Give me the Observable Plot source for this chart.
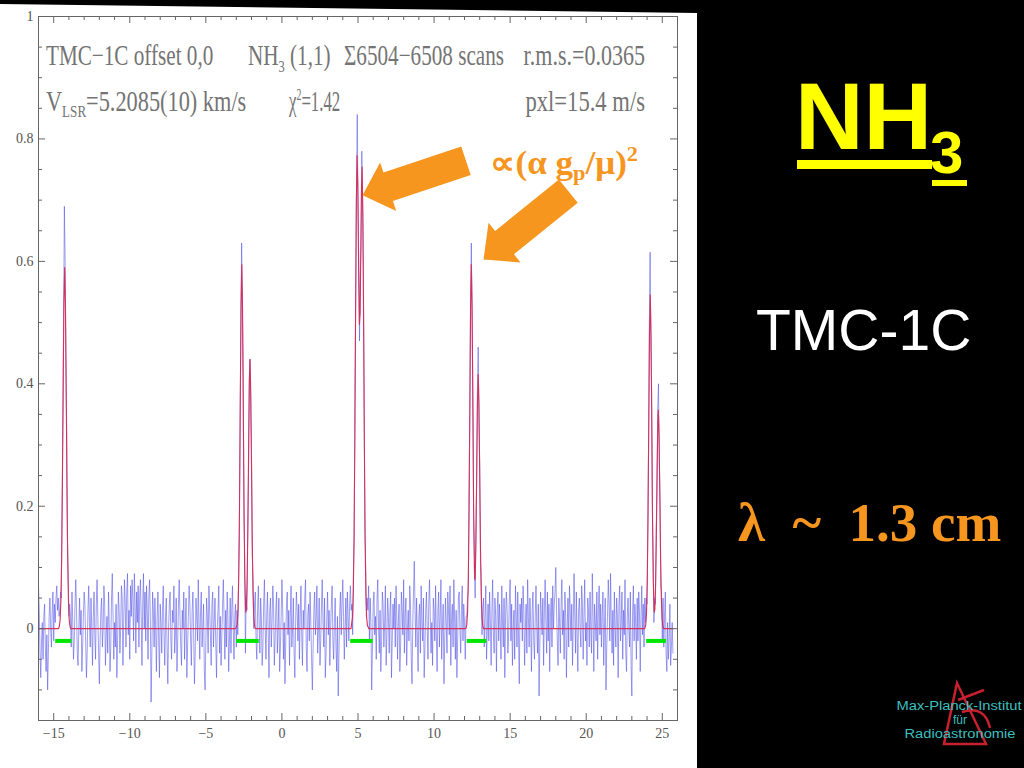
<!DOCTYPE html>
<html><head><meta charset="utf-8">
<script src="https://cdn.jsdelivr.net/npm/d3@7"></script>
<script src="https://cdn.jsdelivr.net/npm/@observablehq/plot@0.6"></script>
<style>
html,body{margin:0;padding:0;background:#000;width:1024px;height:768px;overflow:hidden;}
#panel{position:absolute;left:0;top:0;width:697px;height:768px;background:#fff;clip-path:polygon(0 4px,697px 13px,697px 768px,0 768px);}
#chart{position:absolute;left:0;top:0;}
#overlay{position:absolute;left:0;top:0;pointer-events:none;}
</style></head>
<body>
<div id="panel"></div>
<div id="chart"></div>
<svg id="overlay" width="1024" height="768" xmlns="http://www.w3.org/2000/svg">
  <g font-family="'Liberation Serif', serif" font-size="29" fill="#747474">
    <text transform="translate(46,65) scale(0.73,1)">TMC−1C offset 0,0</text>
    <text transform="translate(248,65) scale(0.73,1)">NH<tspan font-size="17" dy="7">3</tspan><tspan dy="-7"> (1,1)</tspan></text>
    <text transform="translate(344,65) scale(0.73,1)">Σ6504−6508 scans</text>
    <text transform="translate(645,65) scale(0.76,1)" text-anchor="end">r.m.s.=0.0365</text>
    <text transform="translate(46,111) scale(0.77,1)">V<tspan font-size="17" dy="6">LSR</tspan><tspan dy="-6">=5.2085(10) km/s</tspan></text>
    <text transform="translate(289,111) scale(0.58,1)">χ<tspan font-size="17" dy="-11">2</tspan><tspan dy="11">=1.42</tspan></text>
    <text transform="translate(645,111) scale(0.78,1)" text-anchor="end">pxl=15.4 m/s</text>
  </g>
  <text x="490" y="174" font-family="'Liberation Serif', serif" font-weight="bold" font-size="33" fill="#f7961f" textLength="148" lengthAdjust="spacingAndGlyphs">∝(α g<tspan font-size="21" dy="6">p</tspan><tspan dy="-6">/μ)</tspan><tspan font-size="21" dy="-13">2</tspan></text>
  <g font-family="'Liberation Sans', Arial, sans-serif" font-weight="bold" fill="#ffff00">
    <text x="795" y="149" font-size="95">NH</text>
    <text x="930" y="173" font-size="60">3</text>
    <rect x="797" y="160" width="135" height="9"/>
    <rect x="932" y="180" width="35" height="6"/>
  </g>
  <text x="756" y="350" font-family="'Liberation Sans', Arial, sans-serif" font-size="57" fill="#ffffff">TMC-1C</text>
  <text x="738" y="541" font-family="'Liberation Serif', serif" font-weight="bold" font-size="55" fill="#f7961f" xml:space="preserve" style="white-space:pre">λ  ~  1.3 cm</text>
  <g fill="none" stroke="#c8202e" stroke-width="2.5">
    <path d="M957,683 L944,744 L986,744 Z"/>
    <path d="M962,712 Q985,705 990,728"/>
    <path d="M958,700 L984,690"/>
  </g>
  <g font-family="'Liberation Sans', Arial, sans-serif" font-size="12" fill="#3cbfbf" text-anchor="middle">
    <text x="959" y="710" textLength="125" lengthAdjust="spacingAndGlyphs">Max-Planck-Institut</text>
    <text x="960" y="724">für</text>
    <text x="960" y="738" textLength="111" lengthAdjust="spacingAndGlyphs">Radioastronomie</text>
  </g>
</svg>
<script>
// ---- data ----
const xMajorTicks = [-15, -10, -5, 0, 5, 10, 15, 20, 25];
const yMajorTicks = [0, 0.2, 0.4, 0.6, 0.8, 1];
const yTickLabels = ["0", "0.2", "0.4", "0.6", "0.8", "1"];

// observed spectrum, one value per 0.05 km/s starting at -16
const blueStart = -16, blueStep = 0.05;
const blueY = [
.07,.03,-.04,-.08,-.02,.01,-.05,.02,.04,-.03,-.07,-.01,-.1,-.04,.02,.05,0,-.03,.03,.06,-.02,.04,.01,.05,.07,.03,.05,.02,
.03,.06,.05,.2,.33,.5,.69,.6,.44,.33,.15,.09,.02,.04,
.02,-.03,.06,.01,-.05,-.02,.04,.08,.03,-.04,
-.06,0,.05,-.01,.03,-.07,-.03,.02,.06,.04,
-.02,-.08,-.04,.03,.07,.01,-.03,.05,0,-.06,
.02,.06,-.01,-.05,.04,.08,.02,-.04,-.09,-.02,
.03,.05,-.03,0,.07,.04,-.06,-.01,.02,-.04,
.06,.01,-.07,-.03,.05,.09,.02,-.05,.01,-.03,
.04,-.08,-.02,.06,.03,-.04,0,.07,.05,-.06,
.01,.08,.04,-.03,.06,.09,-.01,.03,-.05,.07,
.02,.08,.05,-.02,.09,.04,-.04,.06,.01,.07,
-.03,.05,.08,.02,-.06,.04,.09,0,.06,-.02,
.07,.03,-.05,.05,.08,.02,-.12,-.04,.06,.03,
-.03,.05,0,-.07,.02,.06,-.02,-.08,.04,.01,
-.04,.03,.07,-.01,-.06,.02,.05,-.03,-.09,0,
.04,.06,-.02,-.05,.03,.01,.07,-.04,-.01,.05,
-.07,-.02,.04,.08,.02,-.03,-.06,.03,0,.06,
-.05,.01,.05,-.08,-.03,.02,.07,.04,-.02,-.06,
.03,.06,-.01,-.09,-.04,.05,.02,-.02,.08,.01,
-.05,.03,.06,-.03,0,.04,-.07,-.1,-.02,.05,
.02,-.04,.07,.03,-.01,-.06,.04,.06,-.03,.01,
.05,-.02,-.08,0,.03,.07,-.04,.02,-.06,-.01,
.04,.08,.01,-.05,.03,-.03,.06,.02,-.07,-.02,
.05,-.04,.03,.07,0,-.05,.02,.04,-.03,
.03,-.01,.09,.15,.34,.48,.63,.53,.42,.2,.12,-.04,.05,.03,.15,.24,.4,.44,.37,.29,.12,.08,0,.04,
.06,-.02,-.05,.03,.07,.01,-.04,.05,.02,-.06,
-.03,.04,.08,0,-.05,.02,.06,-.01,-.08,.03,
.05,-.03,.01,.07,.04,-.06,-.02,.03,.06,-.04,
0,.05,-.07,-.03,.02,.08,.03,-.05,.01,-.09,
-.02,.04,.06,-.01,.03,-.06,.02,.07,-.03,0,
.05,-.04,-.08,.01,.06,.03,-.02,.04,-.05,.02,
.07,-.01,-.06,.03,0,.05,.08,-.03,-.07,.02,
.04,-.02,.06,.01,-.05,-.1,-.03,.03,.06,-.01,
.02,.07,-.04,0,.05,-.06,-.02,.04,.08,.01,
-.03,.05,-.08,-.04,.02,.06,-.01,.03,-.06,0,
.04,.07,-.02,-.05,.01,.05,-.03,-.07,.02,-.11,
-.04,.03,.06,-.01,.04,.08,.02,-.05,0,.05,
-.03,.06,.02,-.02,.04,.07,.03,
.04,-.01,.09,.15,.37,.55,.72,.84,.7,.6,.47,.58,.62,.78,.7,.6,.4,.17,.11,.02,.05,
.03,.07,-.02,.05,.01,-.1,-.03,.04,.06,-.01,
.02,-.05,.05,.08,0,-.04,.03,-.07,-.02,.06,
.04,-.03,.01,.07,-.06,-.01,.05,.02,-.04,.03,
.06,-.08,-.02,.04,0,.05,-.03,.07,.02,-.05,
.01,.04,-.07,-.03,.06,.03,-.01,.08,-.04,.02,
.05,-.06,0,.03,-.02,.07,.04,-.05,-.09,.01,
.06,.11,.03,-.03,.05,-.01,-.07,.02,.04,-.04,
.07,.01,-.02,.05,-.08,-.03,.03,.06,0,-.05,
.04,.08,.02,-.04,.01,-.06,.05,.03,-.02,.07,
-.01,-.07,.03,.06,-.03,.02,.08,-.05,0,.04,
-.09,-.02,.05,.01,-.04,.06,.03,-.01,.07,-.06,
.02,.04,-.03,.08,.01,-.05,.03,-.08,-.02,.05,
.06,0,-.04,.03,.07,-.02,.04,.01,-.05,.02,
.02,.05,.06,.22,.35,.55,.63,.5,.39,.17,.12,.05,.16,.24,.39,.46,.34,.27,.11,.08,-.01,.03,
.05,-.03,.02,.07,-.05,0,.04,-.02,.06,.01,
-.06,.03,.08,-.01,-.04,.05,.02,-.07,.03,.06,
-.02,.04,0,-.05,.07,.01,-.03,.05,-.08,.02,
.06,.03,-.04,-.01,.05,.08,-.02,.04,-.06,0,
.03,-.05,.07,.02,-.03,.06,-.01,-.09,.04,.01,
.05,-.02,.07,.03,-.06,0,.04,-.04,.08,.02,
-.03,.05,.01,-.07,.03,.06,-.02,-.05,.02,.07,
0,-.04,.04,-.11,-.03,.06,.02,-.01,.05,-.06,
.03,.08,.01,-.04,.06,-.02,.04,-.07,.02,.05,
-.03,.07,0,.04,.06,.1,.03,-.02,-.06,.05,
.01,-.04,.04,.08,-.01,.03,-.05,.06,.02,-.08,
0,.05,-.03,.07,.03,-.02,.04,-.06,.01,.09,
.02,-.04,.06,-.01,-.07,.03,.05,0,-.03,.07,
.04,-.05,.02,.08,-.02,.01,-.06,.05,.03,-.03,
.06,0,-.04,.09,.02,-.07,.04,.01,-.02,.06,
-.05,.03,.07,-.01,.04,-.03,.02,.06,-.06,0,
.05,-.1,-.03,.02,.08,.04,-.02,.09,.01,-.04,
.03,-.06,.06,0,-.03,.05,.02,-.08,.04,.07,
-.02,.01,.06,-.05,.03,-.01,.08,-.04,-.07,.02,
.05,0,-.03,.06,-.06,-.11,.03,.07,-.02,.04,
.01,-.05,.05,-.02,.06,.03,-.07,.02,.07,-.01,
.04,-.03,.05,
.01,.05,.04,.17,.3,.5,.615,.47,.39,.19,.12,.01,.05,.04,.16,.22,.36,.4,.28,.21,.07,.06,-.02,
.05,-.03,.02,.06,-.04,-.07,.01,-.05,-.02,.04,-.06,-.03,.01,-.04
];

// hyperfine model fit (red)
const redX = [-16,
-14.68,-14.63,-14.58,-14.53,-14.48,-14.43,-14.38,-14.33,-14.28,-14.23,-14.18,-14.13,-14.08,-14.03,-13.98,-13.93,-13.88,
-3.04,-2.94,-2.89,-2.84,-2.79,-2.74,-2.69,-2.64,-2.59,-2.54,-2.49,-2.44,-2.39,-2.37,-2.34,-2.29,-2.24,-2.19,-2.14,-2.10,-2.05,-2.00,-1.95,-1.90,-1.85,-1.80,-1.75,
4.54,4.64,4.69,4.74,4.79,4.84,4.89,4.94,4.99,5.04,5.09,5.14,5.19,5.23,5.27,5.32,5.37,5.42,5.47,5.52,5.57,5.62,5.72,
12.05,12.10,12.15,12.20,12.25,12.30,12.35,12.40,12.45,12.50,12.55,12.60,12.65,12.675,12.70,12.75,12.80,12.85,12.90,12.95,13.00,13.05,13.10,13.15,13.20,13.25,
23.81,23.86,23.91,23.96,24.01,24.06,24.11,24.16,24.21,24.26,24.31,24.36,24.41,24.46,24.475,24.51,24.56,24.61,24.66,24.71,24.74,24.79,24.84,24.89,24.94,24.99,25.04,25.09,
25.7];
const redY = [0,
0,.004,.014,.045,.113,.233,.391,.532,.59,.532,.391,.233,.113,.045,.014,.004,0,
0,.007,.026,.081,.193,.361,.525,.595,.525,.361,.193,.082,.033,.027,.031,.074,.165,.293,.406,.44,.388,.267,.143,.06,.019,.005,0,
0,.019,.058,.146,.302,.507,.692,.773,.719,.59,.497,.517,.63,.721,.754,.674,.493,.294,.142,.056,.018,.005,0,
0,.001,.007,.026,.081,.193,.361,.525,.595,.525,.362,.198,.099,.08,.082,.141,.253,.366,.415,.366,.252,.135,.056,.018,.005,0,
0,.001,.006,.024,.074,.177,.331,.481,.545,.481,.331,.177,.075,.031,.027,.031,.072,.153,.259,.341,.357,.315,.217,.116,.048,.016,.004,0,
0];

// fit windows (green)
const greenStart = [-14.87, -2.97, 4.52, 12.18, 23.97];
const greenEnd   = [-13.80, -1.49, 5.99, 13.47, 25.28];
const greenLevel = -0.02;

// annotation arrows (tip position in data units)
const arrowTipX = [5.30, 13.25];
const arrowTipY = [0.708, 0.603];
const arrowAngle = [-108.4, -128.9];

// ---- chart ----
const W = 697, H = 768, mL = 38, mR = 20, mT = 16, mB = 48;
const fw = W - mL - mR, fh = H - mT - mB;
const axisColor = "#666";
const orange = "#f7961f";

const xMinor = d3.range(-16, 27).filter(d => d % 5 !== 0);
const yMinor = d3.range(-15, 101, 5).map(d => d / 100).filter(d => Math.round(d * 100) % 20 !== 0);

const blockArrow = {
  draw(ctx, l, r) {
    const bw = r, hw = r * 1.7, hl = r * 1.8;
    ctx.moveTo(0, -l);
    ctx.lineTo(hw, -l + hl);
    ctx.lineTo(bw, -l + hl);
    ctx.lineTo(bw, 0);
    ctx.lineTo(-bw, 0);
    ctx.lineTo(-bw, -l + hl);
    ctx.lineTo(-hw, -l + hl);
    ctx.closePath();
  }
};

const blueIdx = d3.range(blueY.length);
const redIdx = d3.range(redX.length);
const greenIdx = d3.range(greenStart.length);
const arrowIdx = d3.range(arrowTipX.length);

const chart = Plot.plot({
  width: W, height: H,
  marginLeft: mL, marginRight: mR, marginTop: mT, marginBottom: mB,
  style: {background: "none", fontFamily: "'Liberation Serif', serif", fontSize: "14px", color: "#555", overflow: "visible"},
  x: {domain: [-16, 26], ticks: xMajorTicks, tickSize: 0, tickPadding: 8, label: null},
  y: {domain: [-0.15, 1], ticks: yMajorTicks, tickSize: 0, tickPadding: 5, label: null,
      tickFormat: d => yTickLabels[yMajorTicks.indexOf(d)]},
  marks: [
    Plot.line(blueIdx, {x: i => blueStart + i * blueStep, y: i => blueY[i], stroke: "#4b4be4", strokeWidth: 0.75, strokeOpacity: 0.7}),
    Plot.ruleY(greenIdx, {y: () => greenLevel, x1: i => greenStart[i], x2: i => greenEnd[i], stroke: "#00e600", strokeWidth: 4}),
    Plot.line(redIdx, {x: i => redX[i], y: i => redY[i], stroke: "#d3305c", strokeWidth: 1.1}),
    Plot.frame({stroke: axisColor}),
    Plot.tickX(xMajorTicks, {x: d => d, insetTop: fh - 7, stroke: axisColor}),
    Plot.tickX(xMajorTicks, {x: d => d, insetBottom: fh - 7, stroke: axisColor}),
    Plot.tickX(xMinor, {x: d => d, insetTop: fh - 4, stroke: axisColor}),
    Plot.tickX(xMinor, {x: d => d, insetBottom: fh - 4, stroke: axisColor}),
    Plot.tickY(yMajorTicks, {y: d => d, insetRight: fw - 7, stroke: axisColor}),
    Plot.tickY(yMajorTicks, {y: d => d, insetLeft: fw - 7, stroke: axisColor}),
    Plot.tickY(yMinor, {y: d => d, insetRight: fw - 4, stroke: axisColor}),
    Plot.tickY(yMinor, {y: d => d, insetLeft: fw - 4, stroke: axisColor}),
    Plot.vector(arrowIdx, {x: i => arrowTipX[i], y: i => arrowTipY[i], rotate: i => arrowAngle[i],
      length: 109, r: 15, anchor: "end", shape: blockArrow, fill: orange, stroke: "none"})
  ]
});
document.getElementById("chart").appendChild(chart);
</script>
</body></html>
